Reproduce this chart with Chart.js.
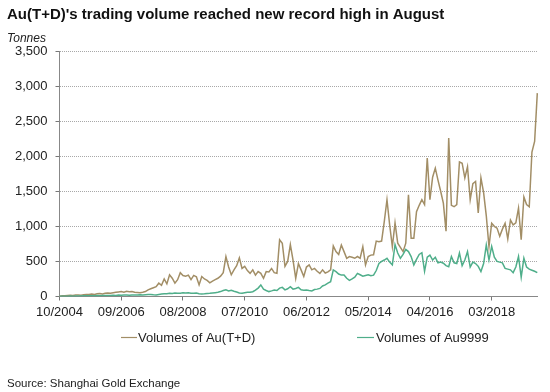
<!DOCTYPE html>
<html>
<head>
<meta charset="utf-8">
<script src="https://cdn.jsdelivr.net/npm/chart.js@4/dist/chart.umd.min.js"></script>
<style>
  html, body { margin: 0; padding: 0; background: #fff; }
  #wrap { width: 550px; height: 392px; }
</style>
</head>
<body>
<div id="wrap"><canvas id="c" width="550" height="392"></canvas></div>
<script>
// ---- data ----
const chartTitle = "Au(T+D)'s trading volume reached new record high in August";
const unitLabel = "Tonnes";
const sourceText = "Source: Shanghai Gold Exchange";
const seriesNames = ["Volumes of Au(T+D)", "Volumes of Au9999"];
const startYear = 2004, startMonth = 10; // first month of the series

const tickLabels = ["10/2004", "09/2006", "08/2008", "07/2010", "06/2012", "05/2014", "04/2016", "03/2018"];
const yTicks = [0, 500, 1000, 1500, 2000, 2500, 3000, 3500];

const tdVolumes = [
  5,12,10,15,18,14,20,22,18,25,
  30,28,35,30,38,42,35,45,50,48,
  55,60,65,70,62,75,68,72,60,58,
  55,62,70,95,110,125,140,190,160,250,
  180,310,260,190,240,340,300,290,305,240,
  300,280,165,285,250,230,195,220,240,260,
  290,340,570,420,310,380,440,550,400,430,
  370,330,380,305,355,330,260,355,350,400,
  340,330,810,760,430,500,740,520,260,470,
  380,285,420,450,380,400,360,330,380,335,
  350,380,720,640,600,735,640,545,570,560,
  545,570,545,710,450,570,590,595,790,780,
  790,1070,1380,1020,710,1050,760,700,640,760,
  1450,830,830,1210,1300,1380,1310,1975,1380,1700,
  1830,1660,1500,1330,930,2260,1300,1280,1310,1920,
  1900,1690,1850,1380,1610,1640,1190,1690,1480,1150,
  710,1045,1000,975,860,960,1045,820,1090,1020,
  1050,1260,810,1420,1310,1280,2060,2210,2900
];

const au9999Volumes = [
  2,3,5,4,6,5,8,6,8,10,
  9,12,10,12,14,12,15,14,16,15,
  18,16,20,18,22,20,18,20,22,20,
  24,22,25,28,30,25,22,30,35,40,
  38,45,42,50,45,48,52,50,55,48,
  45,50,40,36,38,42,45,50,55,60,
  70,85,95,80,90,75,65,50,48,55,
  62,60,68,90,120,165,105,85,70,80,
  92,85,120,130,95,110,140,105,115,130,
  95,90,92,85,80,100,105,115,150,165,
  190,210,380,355,320,305,305,260,230,250,
  275,330,310,290,300,310,295,305,370,470,
  500,520,545,490,450,740,620,545,600,670,
  640,570,450,530,600,625,360,560,590,520,
  560,480,490,475,440,425,570,480,470,620,
  440,520,640,420,490,470,430,355,470,735,
  520,715,560,500,490,480,400,390,380,340,
  420,570,275,545,420,390,375,360,340
];

// month categories MM/YYYY
const months = tdVolumes.map((_, i) => {
  const k = startMonth - 1 + i;
  const m = (k % 12) + 1;
  const y = startYear + Math.floor(k / 12);
  return (m < 10 ? "0" + m : "" + m) + "/" + y;
});

// ---- styles ----
const colTD = "#a28e66";
const col9999 = "#4fae8a";
const FONT = "'Liberation Sans', Arial, Helvetica, sans-serif";

const textPlugin = {
  id: "texts",
  beforeDraw(chart) {
    const ctx = chart.ctx;
    ctx.save();
    ctx.fillStyle = "#fff";
    ctx.fillRect(0, 0, chart.width, chart.height);
    ctx.restore();
  },
  afterDraw(chart) {
    const ctx = chart.ctx;
    ctx.save();
    ctx.textBaseline = "alphabetic";
    ctx.textAlign = "left";
    // title
    ctx.fillStyle = "#111";
    ctx.font = "bold 15px " + FONT;
    ctx.fillText(chartTitle, 7, 19);
    // unit
    ctx.fillStyle = "#222";
    ctx.font = "italic 12px " + FONT;
    ctx.fillText(unitLabel, 7, 42);
    // legend
    ctx.font = "13px " + FONT;
    const items = [
      { x0: 121, x1: 137, tx: 138, color: chart.data.datasets[0].borderColor, text: chart.data.datasets[0].label },
      { x0: 357, x1: 374, tx: 376, color: chart.data.datasets[1].borderColor, text: chart.data.datasets[1].label }
    ];
    items.forEach(it => {
      ctx.strokeStyle = it.color;
      ctx.lineWidth = 1.2;
      ctx.beginPath();
      ctx.moveTo(it.x0, 337.5);
      ctx.lineTo(it.x1, 337.5);
      ctx.stroke();
      ctx.fillStyle = "#222";
      ctx.fillText(it.text, it.tx, 342);
    });
    // source
    ctx.font = "11.5px " + FONT;
    ctx.fillStyle = "#222";
    ctx.fillText(sourceText, 7, 387);
    ctx.restore();
  }
};

new Chart(document.getElementById("c"), {
  type: "line",
  data: {
    labels: months,
    datasets: [
      { label: seriesNames[0], data: tdVolumes, borderColor: colTD, backgroundColor: colTD,
        borderWidth: 1.5, pointRadius: 0, tension: 0, fill: false, order: 1 },
      { label: seriesNames[1], data: au9999Volumes, borderColor: col9999, backgroundColor: col9999,
        borderWidth: 1.5, pointRadius: 0, tension: 0, fill: false, order: 0 }
    ]
  },
  options: {
    responsive: false,
    animation: false,
    devicePixelRatio: 1,
    layout: { padding: { left: 0, top: 51, right: 12.7, bottom: 75.5 } },
    plugins: {
      legend: { display: false },
      title: { display: false },
      tooltip: { enabled: false }
    },
    scales: {
      x: {
        type: "category",
        offset: false,
        afterFit(scale) { scale.height = 20; },
        grid: {
          display: true,
          drawOnChartArea: false,
          drawTicks: true,
          tickLength: 4,
          tickColor: (c) => (c.tick && tickLabels.includes(months[c.index])) ? "#777" : "rgba(0,0,0,0)"
        },
        border: { display: true, color: "#888", width: 1 },
        ticks: {
          autoSkip: false,
          maxRotation: 0,
          minRotation: 0,
          padding: 4,
          color: "#222",
          font: { family: FONT, size: 13 },
          callback(value, index) {
            const lab = months[index];
            return tickLabels.includes(lab) ? lab : "";
          }
        }
      },
      y: {
        min: yTicks[0],
        max: yTicks[yTicks.length - 1],
        afterFit(scale) { scale.width = 59.5; },
        afterBuildTicks(scale) { scale.ticks = yTicks.map(v => ({ value: v })); },
        grid: {
          color: "#a8a8a8",
          lineWidth: 1,
          drawTicks: true,
          tickLength: 4,
          tickColor: "#777",
          tickBorderDash: []
        },
        border: { display: true, color: "#888", width: 1, dash: [1, 1] },
        ticks: {
          padding: 8,
          color: "#222",
          font: { family: FONT, size: 13 },
          callback: (v) => v.toLocaleString("en-US")
        }
      }
    }
  },
  plugins: [textPlugin]
});
</script>
</body>
</html>
